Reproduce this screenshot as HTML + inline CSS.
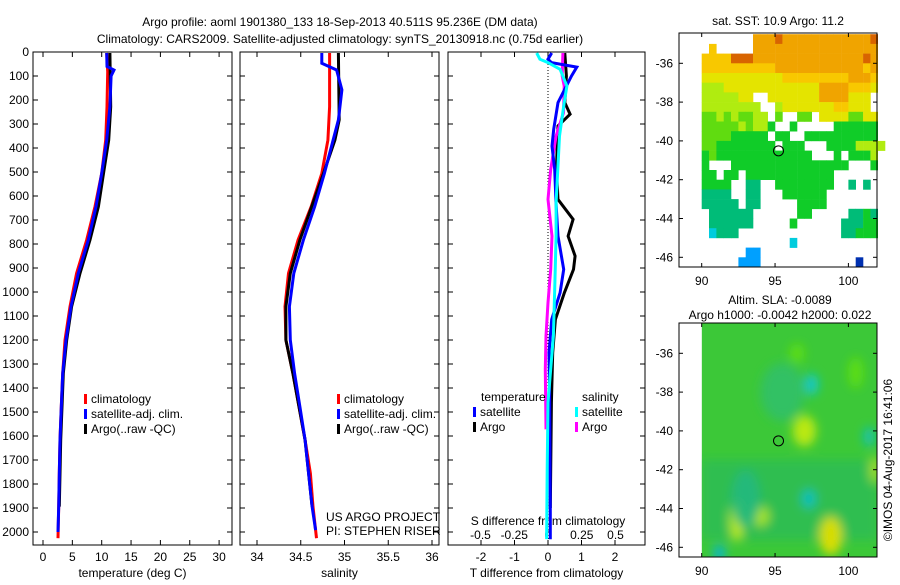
<!DOCTYPE html>
<html><head><meta charset="utf-8"><style>
body{margin:0;background:#fff}
svg text{font-family:"Liberation Sans",sans-serif;font-size:12px;fill:#000}
</style></head><body>
<svg id="c" width="900" height="580" xmlns="http://www.w3.org/2000/svg">
<defs><filter id="blur" x="-50%" y="-50%" width="200%" height="200%"><feGaussianBlur stdDeviation="5"/></filter>
<clipPath id="slaclip"><rect x="701.7" y="323" width="175.3" height="234"/></clipPath></defs>
<rect width="900" height="580" fill="#fff"/>
<text x="340" y="26" text-anchor="middle" font-size="13">Argo profile: aoml 1901380_133 18-Sep-2013 40.511S 95.236E (DM data)</text>
<text x="340" y="43" text-anchor="middle" font-size="13">Climatology: CARS2009. Satellite-adjusted climatology: synTS_20130918.nc (0.75d earlier)</text>
<g id="g"></g>
</svg>
<script>
// ---- data ----
const tDepthRed=[4,83,228,367,506,644,783,922,1061,1200,1339,1478,1617,1756,1894,2026];
const tRed=[10.85,11.02,10.9,10.68,10.0,8.86,7.44,5.73,4.6,3.75,3.35,3.12,2.9,2.78,2.67,2.56];
const tDepthBlue=[4,60,75,100,228,367,506,644,783,922,1061,1200,1339,1478,1617,1756,1894,2000];
const tBlue=[10.85,10.9,12.1,11.6,11.4,10.85,10.0,9.03,7.72,6.02,4.77,3.92,3.35,3.12,2.9,2.78,2.67,2.56];
const tDepthArgo=[4,228,367,506,644,783,922,1061,1200,1339,1478,1617,1756,1894];
const tArgo=[11.4,11.53,11.2,10.3,9.43,8.0,6.3,4.88,4.03,3.46,3.24,3.01,2.9,2.78];
const sDepthRed=[4,228,367,506,644,783,922,1061,1200,1339,1478,1617,1756,1894,2026];
const sRed=[34.83,34.83,34.81,34.74,34.62,34.47,34.36,34.32,34.33,34.41,34.48,34.55,34.61,34.64,34.68];
const sDepthBlue=[4,47,75,158,283,367,506,644,783,922,1061,1200,1339,1478,1617,1756,1894,1992];
const sBlue=[34.74,34.74,34.91,34.97,34.93,34.87,34.77,34.66,34.53,34.42,34.37,34.38,34.43,34.49,34.55,34.59,34.63,34.67];
const sDepthArgo=[4,283,367,506,644,783,922,1061,1200,1339,1478,1617,1756,1894];
const sArgo=[34.93,34.94,34.89,34.76,34.625,34.49,34.38,34.33,34.33,34.41,34.48,34.55,34.59,34.63];
const dDepthTSat=[4,30,44,63,100,211,322,392,489,628,767,906,1003,1114,1253,1460,1919,2030];
const dTSat=[0.11,0.0,0.1,0.86,0.7,0.3,0.17,0.12,0.2,0.24,0.3,0.47,0.36,0.11,0.03,0.05,0.07,0.07];
const dDepthTArgo=[4,100,211,259,308,489,614,697,767,850,906,1003,1114,1253,1460,1900];
const dTArgo=[0.5,0.55,0.5,0.66,0.3,0.25,0.3,0.75,0.6,0.81,0.76,0.49,0.22,0.14,0.1,0.07];
const dDepthSSat=[4,30,44,72,142,211,350,628,767,975,1183,1460,1739,2030];
const dSSat=[-0.084,-0.06,0.0,0.09,0.14,0.12,0.085,0.06,0.06,0.05,0.04,0.0,-0.006,-0.01];
const dDepthSArgo=[4,100,142,253,350,489,614,767,906,1044,1183,1322,1572];
const dSArgo=[0.11,0.105,0.12,0.115,0.06,0.02,0.0,0.03,0.02,0.0,-0.015,-0.02,-0.015];
const depthTicks=[0,100,200,300,400,500,600,700,800,900,1000,1100,1200,1300,1400,1500,1600,1700,1800,1900,2000];
const tTicks=[0,5,10,15,20,25,30];
const sTicks=[34,34.5,35,35.5,36];
const dTTicks=[-2,-1,0,1,2];
const dSTicks=[-0.5,-0.25,0,0.25,0.5];
const dSTickLabels=["-0.5","-0.25","0","0.25","0.5"];
const lonTicks=[90,95,100];
const latTicks=[-36,-38,-40,-42,-44,-46];
const sstRows=[
"..........oooOooooooooooooO",
"....y.....ooooooooooooooooo",
"...yyyyOOOoooooooooooooooOo",
"...yyyyyyyyyyooooooooooooyo",
"...YYYYYYYYYYYyyyyyyyyyoooy",
"...lllYYYYYYYYYYYYYooooyyyY",
"...lllllYY..YYYYYYYooooYYY.",
"...llllllll..lYYYYYYYyyYYY.",
"...gglglggll.g..gg.YYYYggYY",
"...ggggglgllG..G.....GGGGGG",
"...ggggGGGGG.GG..GGGGGGGGGG",
"...ggGGGGGGGG.GGG...GGGGllll",
"...GgGGGGGGGGGGGGG...G.GGGl",
"...G...GGGGGGGGGGGGGGGG...G",
"...GG.GG.GGGGGGGGGGGG......",
"...GGGG..tt..GGGGGGGG..t.t.",
"...tttt..tt...GGGGGG.......",
"...ttttt.tt.....GGGG.......",
"....tttttt......GG.....ttGt",
"....tttttt.....G......tttGG",
"....cttt..............ttGGG",
"...............c...........",
".........bb................",
"........bbb.............B..."];
const sstColors={O:"#d86400",o:"#f0a400",y:"#f8c800",Y:"#e4e400",l:"#b0ec10",g:"#60dc10",G:"#10cc28",t:"#00bc78",c:"#00ccdd",b:"#00a0ff",B:"#0030b0"};
const slaLon=[97,92.4,94,98.8,97.3,97.5,101.4,101.8,91.2,96.5,93,100.5,95.5];
const slaLat=[-40,-44.6,-44.4,-45.4,-43.5,-37.6,-40.3,-42,-46.3,-36,-43.5,-37,-38];
const slaRx=[0.8,0.5,0.6,0.8,0.5,0.45,0.35,0.35,0.4,0.5,1.0,0.5,1.5];
const slaRy=[0.8,1.1,0.5,1.0,0.5,0.55,0.5,0.7,0.4,0.5,1.5,0.8,1.5];
const slaCol=["#c8ec10","#c8ec10","#b8e818","#e8e000","#10c0c8","#10c8d8","#10c0c8","#b0e020","#00b0e8","#60e010","#20b880","#60e010","#30c068"];

const NS="http://www.w3.org/2000/svg";
const G=document.getElementById('g');
function el(tag,attrs,parent){const e=document.createElementNS(NS,tag);for(const k in attrs)e.setAttribute(k,attrs[k]);(parent||G).appendChild(e);return e;}
function txt(x,y,s,anchor,parent){const t=el('text',{x:x,y:y,'text-anchor':anchor||'start'},parent);t.textContent=s;return t;}
const yD=d=>52+d*0.24;
const PB=545;

function panel(name,x0,x1,xf,ticks,labels,xlabel,showDepth){
  const g=el('g',{});
  
  
  el('rect',{x:x0,y:52,width:x1-x0,height:PB-52,fill:'none',stroke:'#000','stroke-width':1},g);
  depthTicks.forEach(d=>{const y=yD(d);
    el('line',{x1:x0,y1:y,x2:x0+5,y2:y,stroke:'#000'},g);
    el('line',{x1:x1,y1:y,x2:x1-5,y2:y,stroke:'#000'},g);
    if(showDepth){const t=txt(x0-4,y+4,String(d),'end',g);}
  });
  ticks.forEach((v,i)=>{const x=xf(v);
    el('line',{x1:x,y1:PB,x2:x,y2:PB-5,stroke:'#000'},g);
    el('line',{x1:x,y1:52,x2:x,y2:57,stroke:'#000'},g);
    const t=txt(x,561,labels[i],'middle',g);
    
    
  });
  const t=txt((x0+x1)/2,577,xlabel,'middle',g);
  
  
  return g;
}
function line(g,xs,ds,xf,color,name,w){
  const pts=xs.map((v,i)=>xf(v).toFixed(1)+','+yD(ds[i]).toFixed(1)).join(' ');
  const p=el('polyline',{points:pts,fill:'none',stroke:color,'stroke-width':w||3,'stroke-linejoin':'miter'},g);
  
  
}
function legend(g,x,y,items){
  items.forEach((it,i)=>{
    const r=el('rect',{x:x,y:y+i*15-9,width:3,height:10,fill:it[0]},g);
    
    
    const t=txt(x+7,y+i*15,it[1],'start',g);
    
    
  });
}
const xT=v=>43+v*5.87;
let g1=panel('temperature-panel',33,232,xT,tTicks,tTicks.map(String),'temperature (deg C)',true);
line(g1,tRed,tDepthRed,xT,'#f00','climatology-temperature-line');
line(g1,tArgo,tDepthArgo,xT,'#000','argo-temperature-line');
line(g1,tBlue,tDepthBlue,xT,'#00f','satellite-temperature-line');
legend(g1,84,403,[['#f00','climatology'],['#00f','satellite-adj. clim.'],['#000','Argo(..raw -QC)']]);
const xS=v=>257+(v-34)*87.5;
let g2=panel('salinity-panel',240,439,xS,sTicks,sTicks.map(String),'salinity',false);
line(g2,sRed,sDepthRed,xS,'#f00','climatology-salinity-line');
line(g2,sArgo,sDepthArgo,xS,'#000','argo-salinity-line');
line(g2,sBlue,sDepthBlue,xS,'#00f','satellite-salinity-line');
legend(g2,337,403,[['#f00','climatology'],['#00f','satellite-adj. clim.'],['#000','Argo(..raw -QC)']]);
txt(326,521,'US ARGO PROJECT','start',g2);
txt(326,535,'PI: STEPHEN RISER','start',g2);
const xDT=v=>548+v*33.5, xDS=v=>548+v*135;
let g3=panel('difference-panel',448,645,xDT,dTTicks,dTTicks.map(String),'T difference from climatology',false);
el('line',{x1:548,y1:52,x2:548,y2:PB,stroke:'#000','stroke-dasharray':'1,2'},g3);
dSTicks.forEach((v,i)=>{const t=txt(xDS(v),539,dSTickLabels[i],'middle',g3);});
txt(548,525,'S difference from climatology','middle',g3);
line(g3,dTArgo,dDepthTArgo,xDT,'#000','argo-t-diff-line');
line(g3,dSArgo,dDepthSArgo,xDS,'#f0f','argo-s-diff-line');
line(g3,dTSat,dDepthTSat,xDT,'#00f','satellite-t-diff-line');
line(g3,dSSat,dDepthSSat,xDS,'#0ff','satellite-s-diff-line');
txt(481,401,'temperature','start',g3);
txt(582,401,'salinity','start',g3);
legend(g3,473,416,[['#00f','satellite'],['#000','Argo']]);
legend(g3,575,416,[['#0ff','satellite'],['#f0f','Argo']]);

const mx=lon=>701.7+(lon-90)*14.67;
function mapFrame(name,top,bottom){
  const g=el('g',{});
  
  
  const my=lat=>top+30.3+(-36-lat)*19.4;
  return {g,my,finish:()=>{
    el('rect',{x:679,y:top,width:198,height:bottom-top,fill:'none',stroke:'#000'},g);
    lonTicks.forEach(l=>{const x=mx(l);
      el('line',{x1:x,y1:bottom,x2:x,y2:bottom-4,stroke:'#000'},g);
      el('line',{x1:x,y1:top,x2:x,y2:top+4,stroke:'#000'},g);
      const t=txt(x,bottom+18,String(l),'middle',g);});
    latTicks.forEach(l=>{const y=my(l);
      el('line',{x1:679,y1:y,x2:683,y2:y,stroke:'#000'},g);
      el('line',{x1:877,y1:y,x2:873,y2:y,stroke:'#000'},g);
      const t=txt(673,y+4,String(l),'end',g);});
    const c=el('circle',{cx:mx(95.236),cy:my(-40.511),r:5,fill:'none',stroke:'#000'},g);
    
    
  }};
}
const m1=mapFrame('sst-map',33,267);
sstRows.forEach((row,r)=>{[...row].forEach((ch,c)=>{
  if(ch==='.')return;
  const lon=88.5+c*0.5, lat=-34.5-r*0.5;
  const x=mx(lon), y=m1.my(lat);
  const cell=el('rect',{x:x.toFixed(1),y:y.toFixed(1),width:7.6,height:10,fill:sstColors[ch]},m1.g);
  
  
});});
m1.finish();
txt(778,25,'sat. SST: 10.9 Argo: 11.2','middle');

const m2=mapFrame('sla-map',323,557);
const clipG=el('g',{'clip-path':'url(#slaclip)'},m2.g);
const bg=el('rect',{x:mx(90),y:323,width:877-mx(90),height:234,fill:'#3cc838'},clipG);


const blobG=el('g',{filter:'url(#blur)'},clipG);
el('rect',{x:mx(90),y:m2.my(-41.5),width:877-mx(90),height:80,fill:'#28b860',opacity:0.6},blobG);
slaLon.forEach((lon,i)=>{
  const e=el('ellipse',{cx:mx(lon),cy:m2.my(slaLat[i]),rx:slaRx[i]*14.67,ry:slaRy[i]*19.4,fill:slaCol[i],opacity:0.9},blobG);
  
  
});
m2.finish();
txt(780,304,'Altim. SLA: -0.0089','middle');
txt(780,319,'Argo h1000: -0.0042 h2000: 0.022','middle');
const cp=txt(0,0,'©IMOS 04-Aug-2017 16:41:06','middle');
cp.setAttribute('transform','translate(892,460) rotate(-90)');


</script>
</body></html>
